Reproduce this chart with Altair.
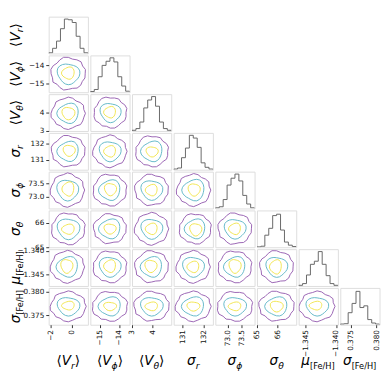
import numpy as np
import pandas as pd
import altair as alt

# ---------------- data ----------------
XDOM = [[-2.2, 1.55], [-15.5, -13.45], [3.0, 4.9], [130.6, 132.45],
        [72.54, 74.0], [65.0, 66.95], [-1.3461, -1.3397], [0.373, 0.3806]]
YDOM = [[-2.2, 1.55], [-15.5, -13.45], [3.0, 4.95], [130.4, 132.65],
        [72.57, 73.93], [65.0, 66.52], [-1.3474, -1.3396], [0.373, 0.3808]]
TICKS = [[-2, 0], [-15, -14], [3, 4], [131, 132], [73.0, 73.5], [65, 66],
         [-1.345, -1.340], [0.375, 0.380]]
FMT = [".0f", ".0f", ".0f", ".0f", ".1f", ".0f", ".3f", ".3f"]

# title pieces: (text, italic?, size, subscript shift)
TITLES = [
    [("⟨", 0, 14, 0), ("V", 1, 14, 0), ("r", 1, 9.5, 3.5), ("⟩", 0, 14, 0)],
    [("⟨", 0, 14, 0), ("V", 1, 14, 0), ("ϕ", 1, 9.5, 3.5), ("⟩", 0, 14, 0)],
    [("⟨", 0, 14, 0), ("V", 1, 14, 0), ("θ", 1, 9.5, 3.5), ("⟩", 0, 14, 0)],
    [("σ", 1, 14, 0), ("r", 1, 9.5, 3.5)],
    [("σ", 1, 14, 0), ("ϕ", 1, 9.5, 3.5)],
    [("σ", 1, 14, 0), ("θ", 1, 9.5, 3.5)],
    [("μ", 1, 14, 0), ("[Fe/H]", 0, 8.5, 3.5)],
    [("σ", 1, 14, 0), ("[Fe/H]", 0, 8.5, 3.5)],
]

# normalised 1-D histograms (10 bins across each panel)
HIST = [
    [0.02, 0.15, 0.36, 0.72, 1.00, 0.98, 0.90, 0.50, 0.15, 0.02],
    [0.02, 0.08, 0.45, 0.78, 0.90, 1.00, 0.88, 0.45, 0.18, 0.03],
    [0.02, 0.07, 0.26, 0.67, 0.90, 1.00, 0.72, 0.26, 0.07, 0.02],
    [0.02, 0.05, 0.35, 0.63, 1.00, 0.92, 0.65, 0.20, 0.07, 0.02],
    [0.02, 0.05, 0.26, 0.68, 0.88, 1.00, 0.80, 0.38, 0.13, 0.02],
    [0.01, 0.03, 0.35, 0.55, 0.92, 0.96, 0.50, 0.15, 0.06, 0.02],
    [0.02, 0.07, 0.32, 0.63, 0.72, 1.00, 0.63, 0.30, 0.07, 0.02],
    [0.02, 0.03, 0.35, 0.62, 0.97, 0.50, 0.55, 0.15, 0.05, 0.02],
]

# contour radius profiles (24 directions), read as irregularities of the curves
WOB = {
    "a": [1.00, 1.05, 0.98, 1.07, 1.02, 0.96, 1.04, 1.08, 1.01, 0.95, 1.03, 1.07,
          1.02, 0.97, 1.05, 0.94, 1.00, 1.06, 0.98, 0.95, 1.04, 1.03, 0.96, 1.02],
    "b": [1.04, 0.97, 1.06, 1.01, 0.94, 1.03, 1.07, 0.99, 1.02, 1.06, 0.96, 1.00,
          1.05, 1.08, 0.97, 1.02, 0.95, 1.04, 1.07, 0.99, 0.96, 1.05, 1.01, 0.98],
    "c": [0.97, 1.06, 1.03, 0.95, 1.04, 1.00, 0.96, 1.06, 1.08, 1.01, 0.95, 1.03,
          0.99, 1.05, 1.07, 0.97, 1.02, 0.94, 1.03, 1.06, 1.00, 0.96, 1.04, 1.01],
    "s": [1.05, 1.08, 1.06, 1.00, 0.94, 0.90, 0.92, 0.98, 1.04, 1.09, 1.10, 1.05,
          0.98, 0.92, 0.88, 0.90, 0.96, 1.02, 1.06, 1.04, 0.98, 0.95, 0.97, 1.02],
    "t": [0.92, 0.96, 1.02, 1.08, 1.12, 1.08, 1.00, 0.94, 0.90, 0.93, 0.99, 1.05,
          1.09, 1.06, 1.00, 0.95, 0.92, 0.96, 1.03, 1.08, 1.05, 0.99, 0.94, 0.91],
}

# row, col, cx, cy, r_outer, r_mid, r_inner, aspect, inner aspect, inner dx, inner dy, profiles
PANELS = [
    (1, 0, .50, .50, .43, .28, .16, 1.00, 1.0, .00, .02, "a", "s", "t"),
    (2, 0, .50, .48, .42, .27, .16, 1.02, 0.95, .00, .00, "b", "t", "s"),
    (2, 1, .51, .50, .41, .26, .15, 1.00, 1.0, -.01, .01, "c", "s", "t"),
    (3, 0, .50, .50, .42, .27, .15, 1.02, 1.0, .02, .02, "a", "t", "s"),
    (3, 1, .50, .50, .42, .27, .15, 1.00, 1.0, .00, .00, "b", "s", "t"),
    (3, 2, .51, .50, .41, .27, .15, 1.00, 1.1, .00, -.01, "c", "t", "s"),
    (4, 0, .48, .50, .42, .27, .15, 0.96, 0.8, .02, .03, "b", "s", "t"),
    (4, 1, .50, .50, .42, .27, .15, 1.00, 0.9, .01, .02, "c", "t", "s"),
    (4, 2, .50, .50, .42, .27, .15, 1.02, 1.0, .00, .00, "a", "s", "t"),
    (4, 3, .51, .50, .42, .28, .15, 1.00, 0.9, .01, .01, "b", "t", "s"),
    (5, 0, .50, .50, .42, .28, .16, 1.00, 1.2, .00, -.01, "c", "s", "t"),
    (5, 1, .50, .50, .41, .27, .15, 1.04, 1.1, .00, .00, "a", "t", "s"),
    (5, 2, .50, .50, .42, .27, .15, 1.00, 1.0, .00, .00, "b", "s", "t"),
    (5, 3, .55, .50, .40, .26, .15, 1.00, 0.9, .01, -.02, "c", "t", "s"),
    (5, 4, .50, .50, .42, .27, .15, 1.02, 1.0, .00, .00, "a", "s", "t"),
    (6, 0, .48, .52, .42, .27, .15, 1.00, 0.8, -.02, .02, "b", "t", "s"),
    (6, 1, .50, .52, .42, .27, .15, 1.00, 0.9, .00, .02, "c", "s", "t"),
    (6, 2, .50, .52, .42, .27, .15, 1.00, 0.9, -.02, .02, "a", "t", "s"),
    (6, 3, .50, .52, .42, .27, .15, 1.00, 1.0, .00, .00, "b", "s", "t"),
    (6, 4, .50, .52, .42, .27, .15, 1.00, 0.8, .00, .02, "c", "t", "s"),
    (6, 5, .50, .52, .42, .27, .15, 1.00, 0.8, -.02, .00, "a", "s", "t"),
    (7, 0, .50, .50, .44, .28, .16, 1.12, 1.4, .00, .02, "b", "s", "t"),
    (7, 1, .50, .50, .44, .28, .16, 1.12, 1.4, .00, .00, "c", "t", "s"),
    (7, 2, .50, .50, .44, .28, .16, 1.12, 1.4, .00, .00, "a", "s", "t"),
    (7, 3, .50, .50, .44, .28, .16, 1.12, 1.3, .00, .00, "b", "t", "s"),
    (7, 4, .50, .50, .44, .28, .16, 1.12, 1.4, .00, .00, "c", "s", "t"),
    (7, 5, .50, .50, .44, .28, .16, 1.12, 1.1, .00, .00, "a", "t", "s"),
    (7, 6, .47, .50, .44, .28, .16, 1.12, 1.4, -.03, .02, "b", "s", "t"),
]

LEVEL_COLORS = ["#9a64b4", "#64b9c8", "#f2e550"]
# ---------------------------------------------------------------

N = 8
W, H = 40.5, 38
FONT = "DejaVu Sans"
LABEL_SIZE = 7.5
CW = {"⟨": 0.39, "⟩": 0.39, "V": 0.684, "σ": 0.634, "μ": 0.636, "r": 0.411,
      "ϕ": 0.66, "θ": 0.602, "[": 0.39, "]": 0.39, "F": 0.575, "e": 0.615,
      "/": 0.337, "H": 0.752}

ANG = np.linspace(0, 2 * np.pi, 24, endpoint=False)
ONE = pd.DataFrame({"t": [0]})


def piece_width(txt, size):
    return sum(CW.get(ch, 0.6) for ch in txt) * size


def title_layers(k, rotated):
    pieces = TITLES[k]
    total = sum(piece_width(p[0], p[2]) for p in pieces)
    layers = []
    cum = 0.0
    for txt, ital, size, shift in pieces:
        if rotated:
            px = -30 + shift
            py = H / 2 + total / 2 - cum
            ang = 270
        else:
            px = W / 2 - total / 2 + cum
            py = H + 42 + shift
            ang = 0
        layers.append(
            alt.Chart(ONE).mark_text(
                text=txt, font=FONT, fontSize=size,
                fontStyle="italic" if ital else "normal",
                angle=ang, align="left", baseline="alphabetic", color="black",
            ).encode(x=alt.value(px), y=alt.value(py))
        )
        cum += piece_width(txt, size)
    return layers


def axis_for(k, orient):
    common = dict(values=TICKS[k], format=FMT[k], title=None, labelFontSize=LABEL_SIZE,
                  labelFont=FONT, tickSize=3, domain=False, grid=False,
                  labelFlush=False, labelOverlap=False, labelPadding=2,
                  tickColor="#333", labelColor="#111")
    if orient == "bottom":
        return alt.Axis(labelAngle=270, **common)
    return alt.Axis(**common)


def hist_panel(k):
    lo, hi = XDOM[k]
    edges = np.linspace(lo, hi, len(HIST[k]) + 1)
    xs, ys = [edges[0]], [0.0]
    for b, h in enumerate(HIST[k]):
        xs += [edges[b], edges[b + 1]]
        ys += [h, h]
    xs.append(edges[-1])
    ys.append(0.0)
    df = pd.DataFrame({"x": xs, "y": ys, "k": range(len(xs))})
    xaxis = axis_for(k, "bottom") if k == N - 1 else None
    line = alt.Chart(df).mark_line(color="#666666", strokeWidth=1, clip=True).encode(
        x=alt.X("x:Q", scale=alt.Scale(domain=XDOM[k], nice=False, zero=False), axis=xaxis),
        y=alt.Y("y:Q", scale=alt.Scale(domain=[0, 1.07], nice=False), axis=None),
        order="k:Q",
    )
    layers = [line]
    if k == 0:
        layers += title_layers(0, True)
    if k == N - 1:
        layers += title_layers(N - 1, False)
    return alt.layer(*layers).properties(width=W, height=H)


def contour_panel(p):
    (r, c, cx, cy, ro, rm, ri, asp, ia, ix, iy, wo, wm, wi) = p
    rows = []
    specs = [("o", cx, cy, ro, asp, wo), ("m", cx, cy, rm, asp, wm),
             ("i", cx + ix, cy + iy, ri, ia, wi)]
    for lvl, ccx, ccy, rad, a, w in specs:
        rr = rad * np.array(WOB[w])
        fx = ccx + rr * np.cos(ANG)
        fy = ccy + rr / a * np.sin(ANG)
        fx = np.append(fx, fx[0])
        fy = np.append(fy, fy[0])
        xd, yd = XDOM[c], YDOM[r]
        for n, (u, v) in enumerate(zip(fx, fy)):
            rows.append({"x": xd[0] + u * (xd[1] - xd[0]),
                         "y": yd[0] + v * (yd[1] - yd[0]),
                         "level": lvl, "k": n})
    df = pd.DataFrame(rows)
    xaxis = axis_for(c, "bottom") if r == N - 1 else None
    yaxis = axis_for(r, "left") if c == 0 else None
    line = alt.Chart(df).mark_line(strokeWidth=1, clip=True).encode(
        x=alt.X("x:Q", scale=alt.Scale(domain=XDOM[c], nice=False, zero=False), axis=xaxis),
        y=alt.Y("y:Q", scale=alt.Scale(domain=YDOM[r], nice=False, zero=False), axis=yaxis),
        color=alt.Color("level:N", scale=alt.Scale(domain=["o", "m", "i"], range=LEVEL_COLORS),
                        legend=None),
        order="k:Q",
    )
    layers = [line]
    if c == 0:
        layers += title_layers(r, True)
    if r == N - 1:
        layers += title_layers(c, False)
    return alt.layer(*layers).properties(width=W, height=H)


def blank():
    return alt.Chart(ONE).mark_point(opacity=0).encode(
        x=alt.value(0), y=alt.value(0)
    ).properties(width=W, height=H, view=alt.ViewBackground(strokeOpacity=0))


lookup = {(p[0], p[1]): p for p in PANELS}
cells = []
for r in range(N):
    for c in range(N):
        if c < r:
            cells.append(contour_panel(lookup[(r, c)]))
        elif c == r:
            cells.append(hist_panel(r))
        else:
            cells.append(blank())

chart = alt.concat(*cells, columns=N, spacing=2, bounds="flush").resolve_scale(
    x="independent", y="independent"
).properties(padding=0).configure_view(stroke="#b4b4b4", strokeWidth=1).configure(font=FONT)

chart.save("out.html", embed_options={"renderer": "svg", "actions": False})
